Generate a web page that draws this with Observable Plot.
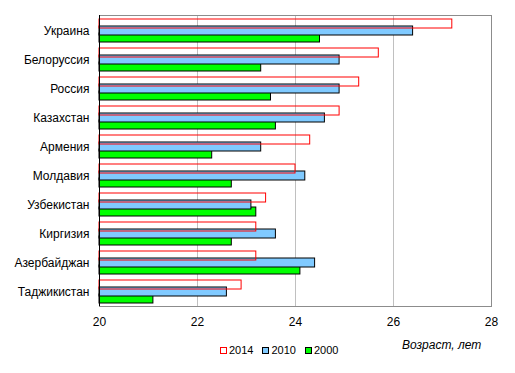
<!DOCTYPE html>
<html>
<head>
<meta charset="utf-8">
<script src="https://cdn.jsdelivr.net/npm/d3@7"></script>
<script src="https://cdn.jsdelivr.net/npm/@observablehq/plot@0.6"></script>
<style>
  html, body { margin: 0; padding: 0; background: #fff; }
  #wrap { position: relative; width: 515px; height: 373px; font-family: "Liberation Sans", Arial, sans-serif; }
  #legend { position: absolute; left: 220px; top: 344px; font-size: 11px; display: flex; gap: 0; color: #000; }
  .li { display: flex; align-items: center; margin-right: 9px; }
  .sw { width: 5px; height: 5px; margin-right: 2px; border: 1px solid #000; }
  #xtitle { position: absolute; left: 402px; top: 338px; font-size: 12px; font-style: italic; color: #000; }
</style>
</head>
<body>
<div id="wrap">
  <div id="chart"></div>
  <div id="legend"></div>
  <div id="xtitle">Возраст, лет</div>
</div>
<script>
const countries = ["Украина","Белоруссия","Россия","Казахстан","Армения","Молдавия","Узбекистан","Киргизия","Азербайджан","Таджикистан"];
const v2014 = [27.2,25.7,25.3,24.9,24.3,24.0,23.4,23.2,23.2,22.9];
const v2010 = [26.4,24.9,24.9,24.6,23.3,24.2,23.1,23.6,24.4,22.6];
const v2000 = [24.5,23.3,23.5,23.6,22.3,22.7,23.2,22.7,24.1,21.1];
const xTicks = [20,22,24,26,28];
const seriesNames = ["2014","2010","2000"];

const rows = (vals) => countries.map((c, i) => ({country: c, value: vals[i]}));
const d2014 = rows(v2014), d2010 = rows(v2010), d2000 = rows(v2000);

const chart = Plot.plot({
  width: 515,
  height: 373,
  marginLeft: 99,
  marginRight: 24,
  marginTop: 15,
  marginBottom: 67,
  style: {fontFamily: "'Liberation Sans', Arial, sans-serif", fontSize: "12px", color: "#000", background: "#fff"},
  x: {domain: [20, 28], ticks: xTicks},
  y: {domain: countries, padding: 0, round: true},
  marks: [
    Plot.ruleX(xTicks.slice(1, -1), {stroke: "#c0c0c0", strokeWidth: 1}),
    Plot.frame({stroke: "#8c8c8c"}),
    Plot.barX(d2000, {x1: 20, x2: "value", y: "country", fill: "#00ff00", stroke: "#000", strokeWidth: 1, insetTop: 17, insetBottom: 3}),
    Plot.barX(d2010, {x1: 20, x2: "value", y: "country", fill: "#80caff", stroke: "#000", strokeWidth: 1, insetTop: 10, insetBottom: 10}),
    Plot.barX(d2014, {x1: 20, x2: "value", y: "country", fill: "none", stroke: "#ff0000", strokeWidth: 1, insetTop: 3, insetBottom: 17}),
    Plot.ruleX([20], {stroke: "#000"}),
    Plot.axisX({ticks: xTicks, tickSize: 0, tickPadding: 11, label: null, line: true, stroke: "#000", fontSize: 12}),
    Plot.axisY({tickSize: 0, tickPadding: 10, label: null, fontSize: 12})
  ]
});
document.getElementById("chart").appendChild(chart);

const legendColors = {"2014": ["none", "#ff0000"], "2010": ["#80caff", "#000"], "2000": ["#00ff00", "#000"]};
const leg = document.getElementById("legend");
seriesNames.forEach(s => {
  const li = document.createElement("div");
  li.className = "li";
  const sw = document.createElement("span");
  sw.className = "sw";
  sw.style.background = legendColors[s][0] === "none" ? "#fff" : legendColors[s][0];
  sw.style.borderColor = legendColors[s][1];
  li.appendChild(sw);
  const t = document.createElement("span");
  t.textContent = s;
  li.appendChild(t);
  leg.appendChild(li);
});
</script>
</body>
</html>
